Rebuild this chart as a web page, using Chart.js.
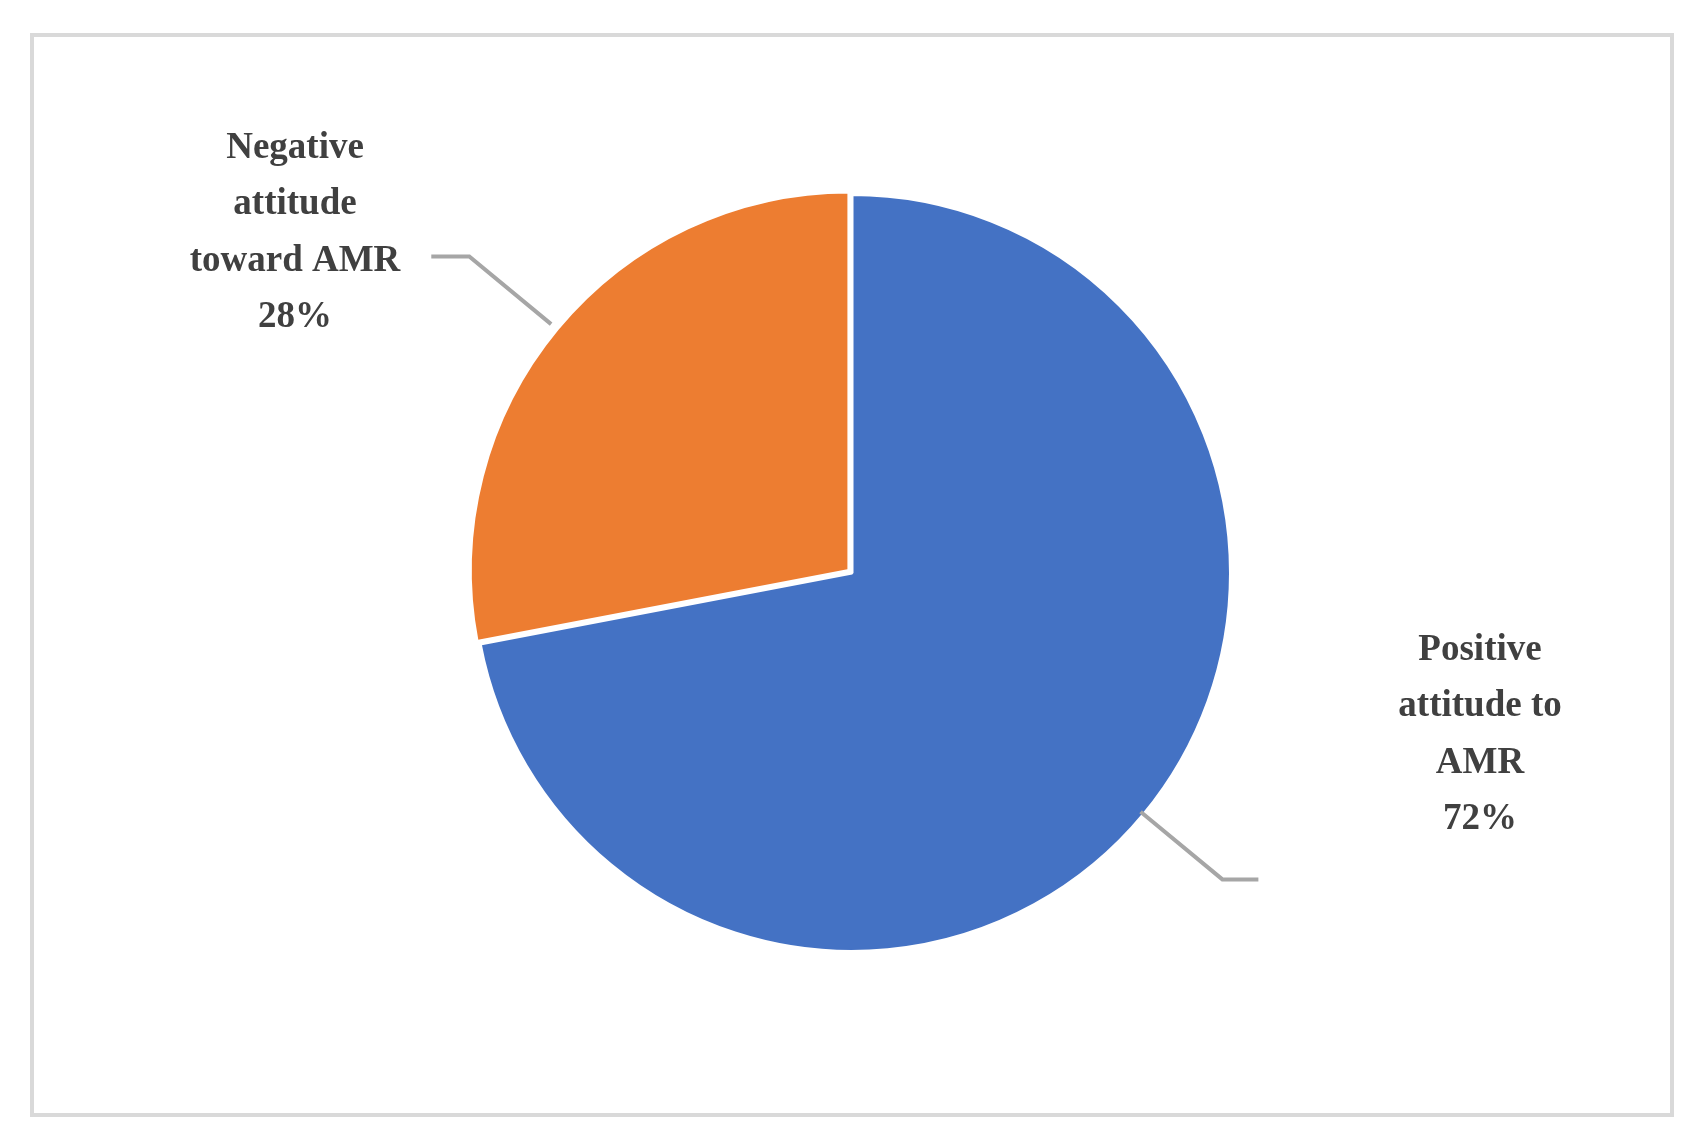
<!DOCTYPE html>
<html>
<head>
<meta charset="utf-8">
<script src="https://cdn.jsdelivr.net/npm/chart.js@4"></script>
<style>
  html, body { margin: 0; padding: 0; background: #fff; }
  canvas { display: block; }
</style>
</head>
<body>
<canvas id="chart" width="1697" height="1148"></canvas>
<script>
const categories = ['Positive attitude to AMR', 'Negative attitude toward AMR'];
const values = [72, 28];
const colors = ['#4472C4', '#ED7D31'];
// label lines as drawn in the picture
const labelLines = [
  ['Positive', 'attitude to', 'AMR', '72%'],
  ['Negative', 'attitude', 'toward AMR', '28%'],
];

// frame + leader lines + labels
const labelsPlugin = {
  id: 'pieLabels',
  beforeDraw(chart) {
    const ctx = chart.ctx;
    ctx.save();
    ctx.strokeStyle = '#d9d9d9';
    ctx.lineWidth = 4;
    ctx.strokeRect(32, 35, 1640, 1080);
    ctx.restore();
  },
  afterDraw(chart) {
    const ctx = chart.ctx;
    const meta = chart.getDatasetMeta(0);
    ctx.save();
    meta.data.forEach((arc, i) => {
      const p = arc.getProps(['x', 'y', 'startAngle', 'endAngle', 'outerRadius'], true);
      const mid = (p.startAngle + p.endAngle) / 2;
      const off = arc.options.offset || 0;
      const cx = p.x + Math.cos(mid) * off;
      const cy = p.y + Math.sin(mid) * off;
      const r = p.outerRadius;
      const sx = cx + Math.cos(mid) * (r - 4);
      const sy = cy + Math.sin(mid) * (r - 4);
      const ex = cx + Math.cos(mid) * r * 1.27;
      const ey = cy + Math.sin(mid) * r * 1.27;
      const right = Math.cos(mid) > 0;
      const hx = ex + (right ? 36 : -38);
      ctx.strokeStyle = '#a6a6a6';
      ctx.lineWidth = 4;
      ctx.beginPath();
      ctx.moveTo(sx, sy);
      ctx.lineTo(ex, ey);
      ctx.lineTo(hx, ey);
      ctx.stroke();

      const lines = labelLines[i];
      const tx = right ? 1480 : 295;
      const ty = right ? 650 : 148;
      ctx.fillStyle = '#404040';
      ctx.font = 'bold 37px "Liberation Serif", "DejaVu Serif", serif';
      ctx.textAlign = 'center';
      ctx.textBaseline = 'middle';
      lines.forEach((t, k) => ctx.fillText(t, tx, ty + k * 56.5));
    });
    ctx.restore();
  }
};

new Chart(document.getElementById('chart'), {
  type: 'pie',
  data: {
    labels: categories,
    datasets: [{
      data: values,
      backgroundColor: colors,
      borderColor: '#ffffff',
      borderWidth: 3,
      offset: [0, 16],
    }],
  },
  options: {
    responsive: false,
    animation: false,
    devicePixelRatio: 1,
    layout: { padding: { left: 464, right: 457, top: 185, bottom: 187 } },
    plugins: {
      legend: { display: false },
      tooltip: { enabled: false },
    },
  },
  plugins: [labelsPlugin],
});
</script>
</body>
</html>
